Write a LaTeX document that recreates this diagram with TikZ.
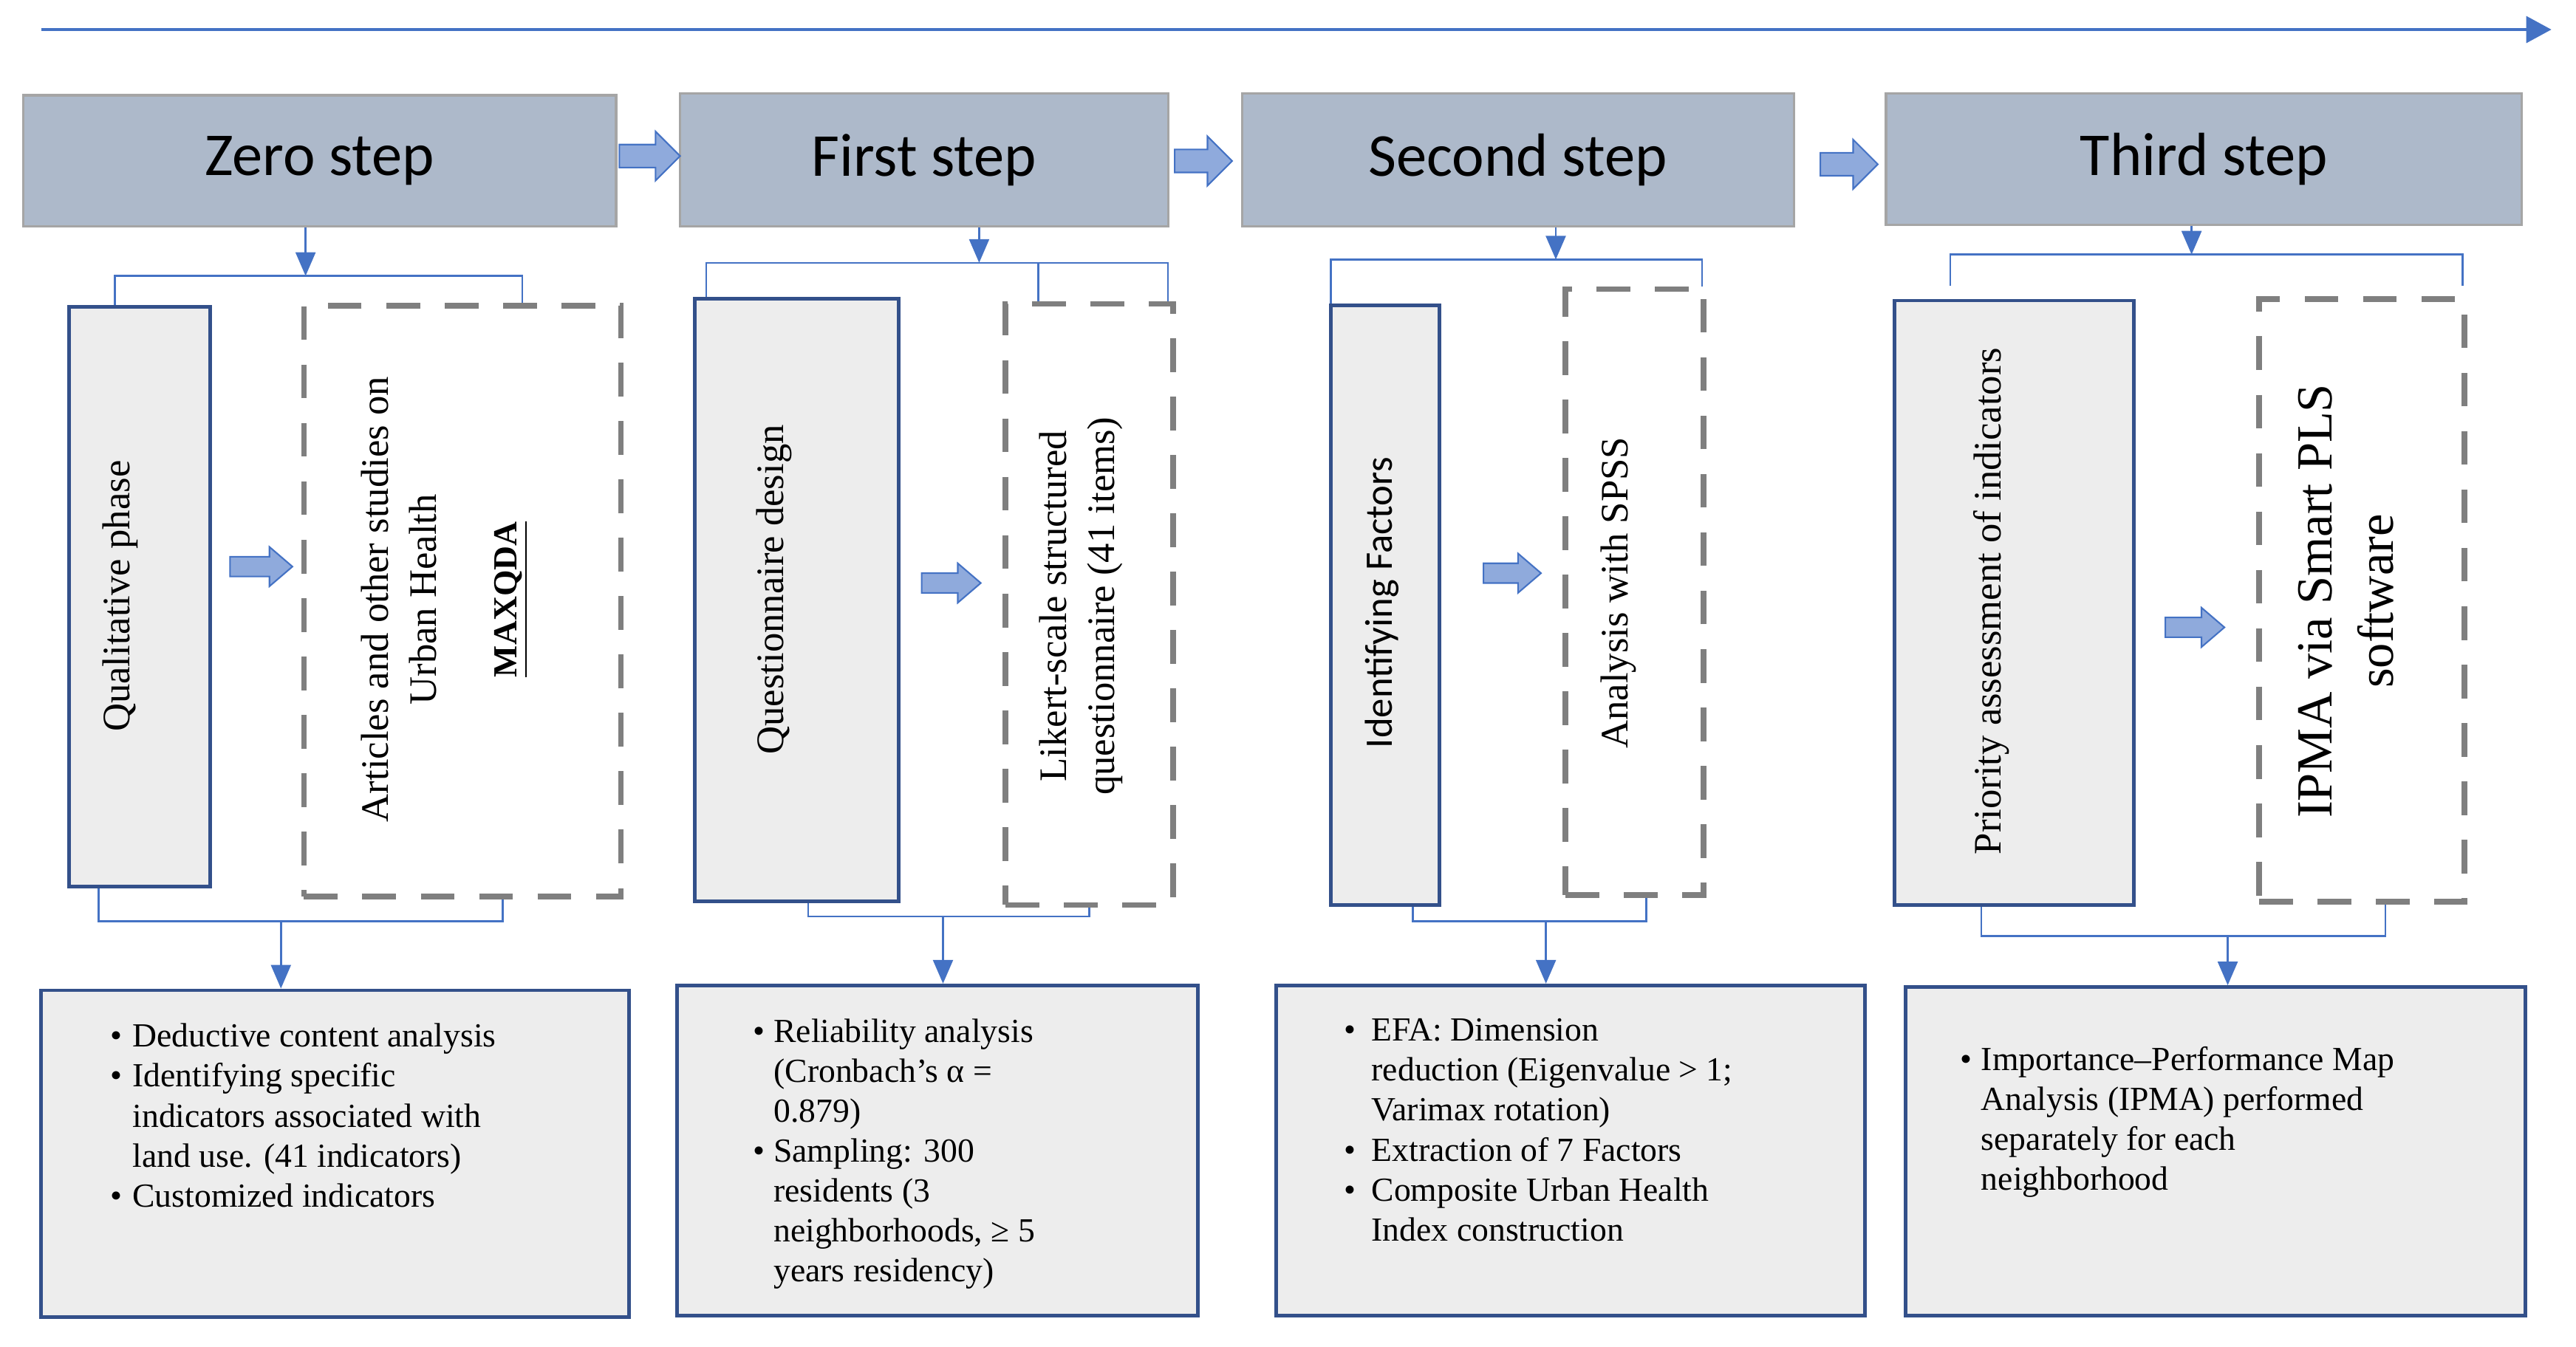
\documentclass[tikz,border=0pt]{standalone}
\usepackage{fontspec}
\setmainfont{Liberation Serif}
\newfontfamily\calib{Carlito}
\usetikzlibrary{fit,arrows.meta,calc}
\definecolor{hdrfill}{HTML}{ADB9CA}
\definecolor{hdrdraw}{HTML}{A5A5A5}
\definecolor{boxfill}{HTML}{EDEDED}
\definecolor{boxdraw}{HTML}{33508A}
\definecolor{dashgray}{HTML}{7F7F7F}
\definecolor{connblue}{HTML}{4472C4}
\definecolor{arrfill}{HTML}{8FAADC}
\newcommand\blt[1]{\makebox[#1][l]{\textbullet}}
\newcommand\blockarrow[6]{%
  \path[barr] (#1,{#3-#6}) -- ({#2-#4},{#3-#6}) -- ({#2-#4},{#3-#5}) -- (#2,#3)
    -- ({#2-#4},{#3+#5}) -- ({#2-#4},{#3+#6}) -- (#1,{#3+#6}) -- cycle;}
\begin{document}
\begin{tikzpicture}[x=0.02224cm,y=-0.02224cm,
  hdr/.style={draw=hdrdraw, line width=0.9pt, fill=hdrfill, inner sep=0pt},
  hdrtext/.style={inner sep=0pt, anchor=center, font=\calib\fontsize{23.5}{28}\selectfont},
  lbox/.style={draw=boxdraw, line width=1.4pt, fill=boxfill, inner sep=0pt},
  dbox/.style={draw=dashgray, line width=2.2pt, dash pattern=on 13pt off 9.5pt, inner sep=0pt},
  rtext/.style={rotate=90, align=center, inner sep=0pt,
    font=\fontsize{15}{18.5}\selectfont},
  btext/.style={align=left, anchor=north west, inner sep=0pt,
    font=\fontsize{13}{15.4}\selectfont},
  conn/.style={draw=connblue, line width=0.7pt},
  dnarr/.style={conn, -{Triangle[length=0.32cm,width=0.27cm]}},
  topline/.style={draw=connblue, line width=1pt, -{Triangle[length=0.34cm,width=0.36cm]}},
  barr/.style={draw=connblue, line width=0.6pt, fill=arrfill},
]
\useasboundingbox (0,0) rectangle (1568,820);

% timeline arrow
\coordinate (ts) at (25,18);
\coordinate (te) at (1553,18);
\draw[topline] (ts) -- (te);

% header boxes
\node[hdr, fit={(14,58)(375,138)}] (h0) {};
\node[hdr, fit={(414,57)(711,138)}] (h1) {};
\node[hdr, fit={(756,57)(1092,138)}] (h2) {};
\node[hdr, fit={(1148,57)(1535,137)}] (h3) {};
\node[hdrtext] (h0t) at (h0.center) {Zero step};
\node[hdrtext] (h1t) at (h1.center) {First step};
\node[hdrtext] (h2t) at (h2.center) {Second step};
\node[hdrtext] (h3t) at (h3.center) {Third step};

% header block arrows
\blockarrow{377}{414}{95}{15}{15}{7}
\blockarrow{715}{750}{98}{15}{15}{7}
\blockarrow{1108}{1143}{100}{15}{15}{7}

% left (solid) boxes
\node[lbox, fit={(42,187)(128,540)}] (q0) {};
\node[lbox, fit={(423,182)(547,549)}] (q1) {};
\node[lbox, fit={(810,186)(876,551)}] (q2) {};
\node[lbox, fit={(1153,183)(1299,551)}] (q3) {};

% dashed boxes
\node[dbox, fit={(185,186)(378,546)}] (d0) {};
\node[dbox, fit={(612,185)(714,551)}] (d1) {};
\node[dbox, fit={(953,176)(1037,545)}] (d2) {};
\node[dbox, fit={(1375,182)(1500,549)}] (d3) {};

% inner block arrows
\blockarrow{140}{178}{345}{14}{12}{6}
\blockarrow{561}{597}{355}{14}{12}{6}
\blockarrow{903}{938}{349}{14}{12}{6}
\blockarrow{1318}{1354}{382}{14}{12}{6}

% rotated texts
\node[rtext] (q0t) at (73,363) {Qualitative phase};
\node[rtext] (d0t) at (243,365) {Articles and other studies on\\Urban Health};
\node[rtext, font=\bfseries\fontsize{13}{15}\selectfont] (d0m) at (311,365) {\underline{MAXQDA}};
\node[rtext] (q1t) at (471,359) {Questionnaire design};
\node[rtext] (d1t) at (658,369) {Likert-scale structured\\questionnaire (41 items)};
\node[rtext, font=\calib\fontsize{15}{18}\selectfont] (q2t) at (841,367) {Identifying Factors};
\node[rtext] (d2t) at (985,361) {Analysis with SPSS};
\node[rtext] (q3t) at (1212,366) {Priority assessment of indicators};
\node[rtext, font=\fontsize{19.5}{23.4}\selectfont] (d3t) at (1428,366) {IPMA via Smart PLS\\software};

% bottom boxes
\node[lbox, fit={(25,603)(383,802)}] (r0) {};
\node[lbox, fit={(412,600)(729,801)}] (r1) {};
\node[lbox, fit={(777,600)(1135,801)}] (r2) {};
\node[lbox, fit={(1160,601)(1537,801)}] (r3) {};

\node[btext] (r0t) at (67,623) {\blt{8.5pt}Deductive content analysis\\
  \blt{8.5pt}Identifying specific\\
  \hphantom{\blt{8.5pt}}indicators associated with\\
  \hphantom{\blt{8.5pt}}land use. (41 indicators)\\
  \blt{8.5pt}Customized indicators};
\node[btext] (r1t) at (458,620) {\blt{8pt}Reliability analysis\\
  \hphantom{\blt{8pt}}(Cronbach's α =\\
  \hphantom{\blt{8pt}}0.879)\\
  \blt{8pt}Sampling: 300\\
  \hphantom{\blt{8pt}}residents (3\\
  \hphantom{\blt{8pt}}neighborhoods, ≥ 5\\
  \hphantom{\blt{8pt}}years residency)};
\node[btext] (r2t) at (818,620) {\blt{10.5pt}EFA: Dimension\\
  \hphantom{\blt{10.5pt}}reduction (Eigenvalue > 1;\\
  \hphantom{\blt{10.5pt}}Varimax rotation)\\
  \blt{10.5pt}Extraction of 7 Factors\\
  \blt{10.5pt}Composite Urban Health\\
  \hphantom{\blt{10.5pt}}Index construction};
\node[btext] (r3t) at (1193,637) {\blt{8pt}Importance–Performance Map\\
  \hphantom{\blt{8pt}}Analysis (IPMA) performed\\
  \hphantom{\blt{8pt}}separately for each\\
  \hphantom{\blt{8pt}}neighborhood};

% ---- column 0 connectors
\coordinate (t0) at (186,168);
\coordinate (b0a) at (70,168);
\coordinate (b0b) at (318,168);
\draw[dnarr] (h0.south -| t0) -- (t0);
\draw[conn] (q0.north -| b0a) -- (b0a) -- (b0b) -- (d0.north -| b0b);
\coordinate (c0a) at (60,561);
\coordinate (c0b) at (306,561);
\coordinate (u0) at (171,561);
\draw[conn] (q0.south -| c0a) -- (c0a) -- (c0b) -- (d0.south -| c0b);
\draw[dnarr] (u0) -- (r0.north -| u0);

% ---- column 1 connectors
\coordinate (t1) at (596,160);
\coordinate (b1a) at (430,160);
\coordinate (b1m) at (632,160);
\coordinate (b1b) at (711,160);
\draw[dnarr] (h1.south -| t1) -- (t1);
\draw[conn] (q1.north -| b1a) -- (b1a) -- (b1b) -- (d1.north -| b1b);
\draw[conn] (b1m) -- (d1.north -| b1m);
\coordinate (c1a) at (492,558);
\coordinate (c1b) at (663,558);
\coordinate (u1) at (574,558);
\draw[conn] (q1.south -| c1a) -- (c1a) -- (c1b) -- (d1.south -| c1b);
\draw[dnarr] (u1) -- (r1.north -| u1);

% ---- column 2 connectors
\coordinate (t2) at (947,158);
\coordinate (b2a) at (810,158);
\coordinate (b2b) at (1036,158);
\draw[dnarr] (h2.south -| t2) -- (t2);
\draw[conn] (q2.north -| b2a) -- (b2a) -- (b2b) -- (d2.north -| b2b);
\coordinate (c2a) at (860,561);
\coordinate (c2b) at (1002,561);
\coordinate (u2) at (941,561);
\draw[conn] (q2.south -| c2a) -- (c2a) -- (c2b) -- (d2.south -| c2b);
\draw[dnarr] (u2) -- (r2.north -| u2);

% ---- column 3 connectors
\coordinate (t3) at (1334,155);
\coordinate (b3a) at (1187,155);
\coordinate (b3b) at (1499,155);
\coordinate (e3a) at (1187,174);
\coordinate (e3b) at (1499,174);
\draw[dnarr] (h3.south -| t3) -- (t3);
\draw[conn] (e3a) -- (b3a) -- (b3b) -- (e3b);
\coordinate (c3a) at (1206,570);
\coordinate (c3b) at (1452,570);
\coordinate (u3) at (1356,570);
\draw[conn] (q3.south -| c3a) -- (c3a) -- (c3b) -- (d3.south -| c3b);
\draw[dnarr] (u3) -- (r3.north -| u3);
\end{tikzpicture}
\end{document}
